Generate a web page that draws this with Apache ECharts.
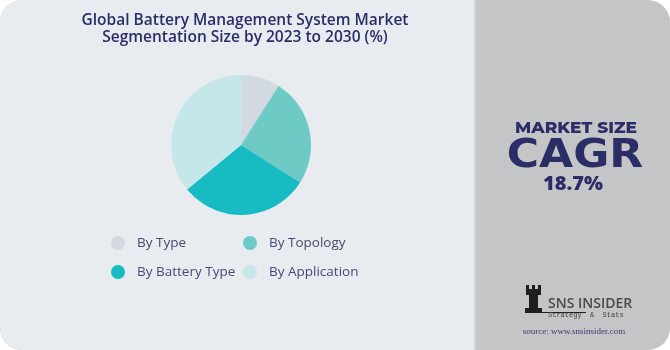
<!DOCTYPE html>
<html>
<head>
<meta charset="utf-8">
<script src="https://cdn.jsdelivr.net/npm/echarts@6/dist/echarts.min.js"></script>
<style>
html,body{margin:0;padding:0;background:#ffffff;}
#c{width:670px;height:350px;}
</style>
</head>
<body>
<div id="c"></div>
<script>
const titleLines = ['Global Battery Management System Market', 'Segmentation Size by 2023 to 2030 (%)'];
const categories = ['By Type', 'By Topology', 'By Battery Type', 'By Application'];
const shares = [9, 25, 30, 36];
const colors = ['#d3d9e0', '#6ecac4', '#17bcc2', '#c5e7ea'];
const cagrLabel = 'MARKET SIZE';
const cagrWord = 'CAGR';
const cagrValue = '18.7%';

const chart = echarts.init(document.getElementById('c'), null, {renderer: 'canvas'});
const navy = '#2b2d66';
const legendText = {fontFamily: 'Open Sans', fontSize: 13.5, color: '#4a4a6e', padding: [0, 0, 0, 7]};

chart.setOption({
  animation: false,
  color: colors,
  title: {
    text: titleLines.join('\n'),
    left: 240, top: 7, textAlign: 'center',
    textStyle: {fontFamily: 'Open Sans', fontWeight: 600, fontSize: 15.5, color: navy, lineHeight: 17}
  },
  legend: [
    {
      data: [categories[0], categories[2]], orient: 'vertical', left: 106, top: 231,
      icon: 'circle', itemWidth: 14, itemHeight: 14, itemGap: 15, textStyle: legendText
    },
    {
      data: [categories[1], categories[3]], orient: 'vertical', left: 238, top: 231,
      icon: 'circle', itemWidth: 14, itemHeight: 14, itemGap: 15, textStyle: legendText
    }
  ],
  graphic: [
    {type: 'rect', z: -10, shape: {x: 0, y: 0, width: 670, height: 350, r: 22}, style: {fill: '#c4c5c7'}},
    {type: 'rect', z: -9, shape: {x: 0, y: 0, width: 474, height: 350, r: [22, 0, 0, 22]}, style: {fill: '#e8ebf0'}},
    {type: 'rect', z: -8, shape: {x: 474, y: 0, width: 2, height: 350}, style: {fill: '#d2d3d6'}},
    {type: 'text', x: 576, y: 128, style: {text: cagrLabel, fill: navy, font: '800 17px Montserrat, "Open Sans", sans-serif', textAlign: 'center', textVerticalAlign: 'middle'}},
    {type: 'text', x: 575, y: 157, scaleX: 1.13, style: {text: cagrWord, fill: navy, font: 'bold 39px "DejaVu Sans", sans-serif', textAlign: 'center', textVerticalAlign: 'middle'}},
    {type: 'text', x: 573, y: 184, style: {text: cagrValue, fill: navy, font: '800 20px "Open Sans", sans-serif', textAlign: 'center', textVerticalAlign: 'middle'}},
    // logo icon (simple rook silhouette)
    {type: 'group', x: 526, y: 285, children: [
      {type: 'rect', shape: {x: 0, y: 0, width: 3, height: 4}, style: {fill: '#1f1f1f'}},
      {type: 'rect', shape: {x: 6, y: 0, width: 3, height: 4}, style: {fill: '#1f1f1f'}},
      {type: 'rect', shape: {x: 12, y: 0, width: 3, height: 4}, style: {fill: '#1f1f1f'}},
      {type: 'rect', shape: {x: 0, y: 4, width: 15, height: 6}, style: {fill: '#1f1f1f'}},
      {type: 'rect', shape: {x: 3, y: 10, width: 9, height: 13}, style: {fill: '#1f1f1f'}},
      {type: 'rect', shape: {x: -1, y: 23, width: 17, height: 5}, style: {fill: '#1f1f1f'}},
      {type: 'rect', shape: {x: 15, y: 27, width: 45, height: 1}, style: {fill: '#1f1f1f'}}
    ]},
    {type: 'text', x: 548, y: 304, style: {text: 'SNS INSIDER', fill: '#4a4a4a', font: '600 14px "Open Sans", sans-serif', textVerticalAlign: 'middle'}},
    {type: 'text', x: 548, y: 315, style: {text: 'Strategy  &  Stats', fill: '#444', font: '7px "Liberation Mono", monospace', textVerticalAlign: 'middle'}},
    {type: 'text', x: 574, y: 332, style: {text: 'source: www.snsinsider.com', fill: '#3a3a6e', font: '9px "Liberation Serif", serif', textAlign: 'center', textVerticalAlign: 'middle'}}
  ],
  series: [{
    type: 'pie',
    center: [241, 145],
    radius: [0, 70],
    startAngle: 90,
    clockwise: true,
    label: {show: false},
    labelLine: {show: false},
    itemStyle: {borderWidth: 0},
    data: categories.map((n, i) => ({name: n, value: shares[i]}))
  }]
});
</script>
</body>
</html>
